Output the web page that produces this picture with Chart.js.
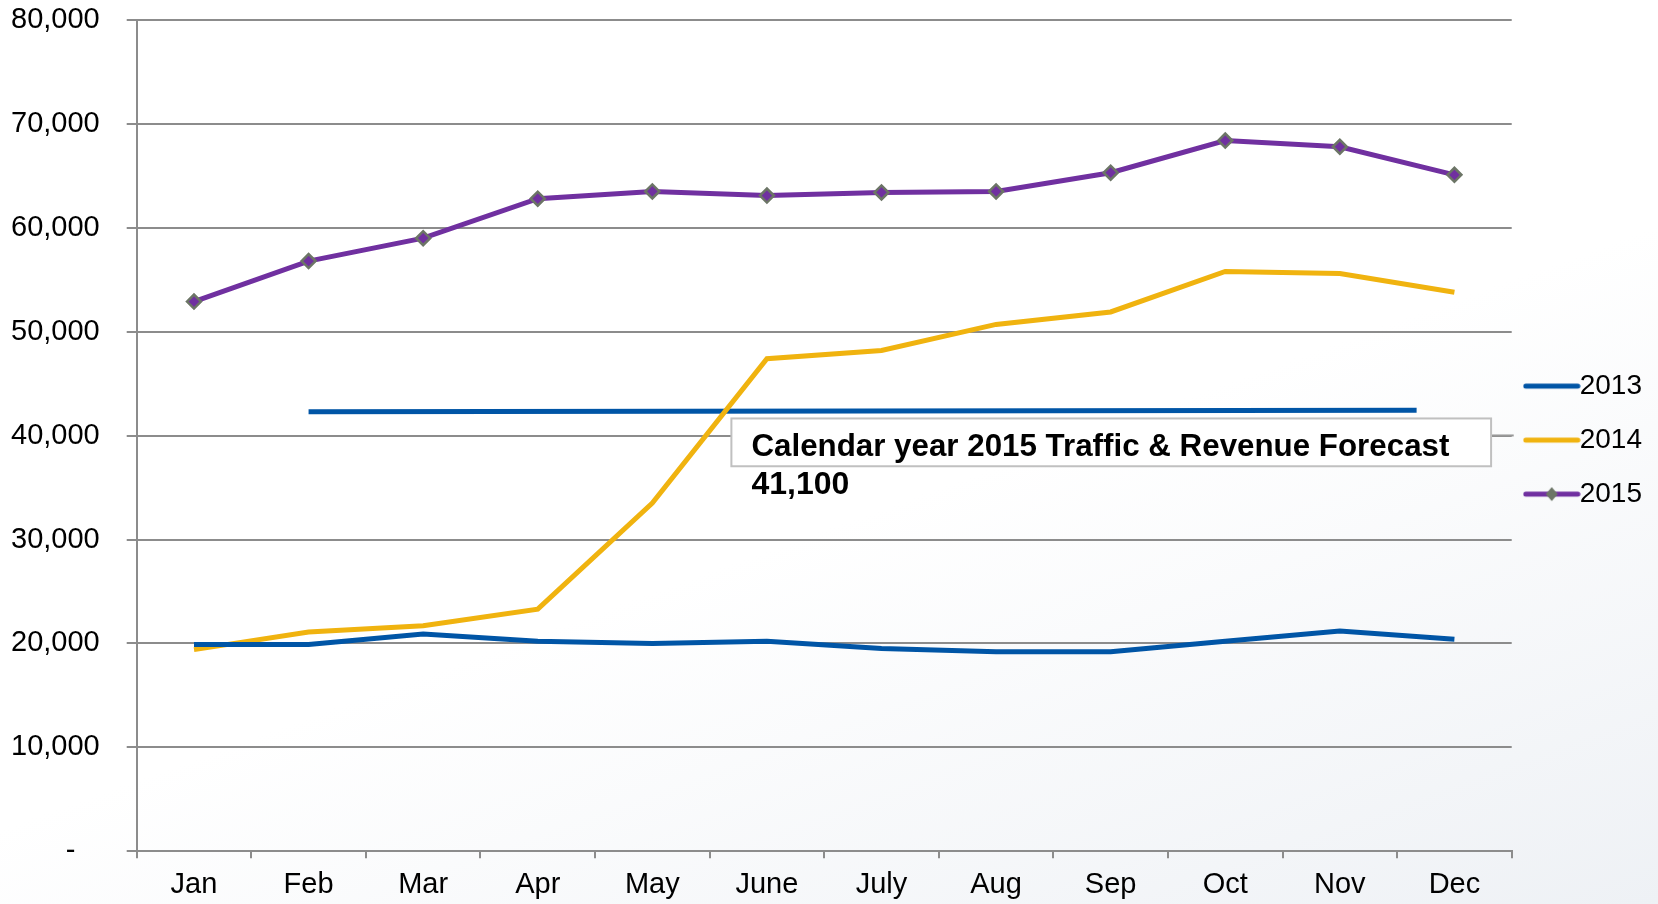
<!DOCTYPE html>
<html>
<head>
<meta charset="utf-8">
<script src="https://cdn.jsdelivr.net/npm/chart.js@4"></script>
<style>
  html, body { margin: 0; padding: 0; }
  body {
    width: 1658px; height: 904px; overflow: hidden;
    background: linear-gradient(160deg, #ffffff 0%, #ffffff 55%, #eef1f5 100%);
  }
  #chart { display: block; }
</style>
</head>
<body>
<canvas id="chart" width="1658" height="904"></canvas>
<script>
const months = ['Jan','Feb','Mar','Apr','May','June','July','Aug','Sep','Oct','Nov','Dec'];
const years = ['2013','2014','2015'];
const traffic2013 = [19900,19900,20900,20200,20000,20200,19500,19200,19200,20200,21200,20400];
const traffic2014 = [19400,21100,21700,23300,33500,47400,48200,50700,51900,55800,55600,53800];
const traffic2015 = [52900,56800,59000,62800,63500,63100,63400,63500,65300,68400,67800,65100];
// forecast bar, x in month index units
const forecastX = [1, 10.67];
const forecastY = [42300, 42450];
const forecastText = ['Calendar year 2015 Traffic & Revenue Forecast', '41,100'];

const colors = ['#0055a6', '#f0b30f', '#7030a0'];
const markerColor = '#6c7566';
const font = '"Liberation Sans", Arial, sans-serif';

/* legend icons: a line sample, 2015 also gets a diamond */
function legendIcon(color, marker){
  const c = document.createElement('canvas');
  c.width = 58; c.height = 18;
  const g = c.getContext('2d');
  g.strokeStyle = color;
  g.lineWidth = 5;
  g.lineCap = 'round';
  g.beginPath(); g.moveTo(3, 9); g.lineTo(55, 9); g.stroke();
  if(marker){
    g.fillStyle = markerColor;
    g.beginPath();
    g.moveTo(29, 2); g.lineTo(35, 9); g.lineTo(29, 16); g.lineTo(23, 9);
    g.closePath(); g.fill();
  }
  return c;
}
const icons = [legendIcon(colors[0]), legendIcon(colors[1]), legendIcon(colors[2], true)];

/* callout box with the forecast text */
const calloutPlugin = {
  id: 'callout',
  afterDatasetsDraw(chart, args, opts){
    const {ctx, scales, chartArea} = chart;
    const x2 = scales.x2, y = scales.y;
    const left = x2.getPixelForValue(opts.x0);
    const right = x2.getPixelForValue(opts.x1);
    const top = y.getPixelForValue(opts.y0);
    const bottom = y.getPixelForValue(opts.y1);
    ctx.save();
    ctx.fillStyle = '#ffffff';
    ctx.fillRect(left, top, right - left, bottom - top);
    ctx.strokeStyle = '#c0c0c0';
    ctx.lineWidth = 2;
    ctx.strokeRect(left, top, right - left, bottom - top);
    // little connector toward the legend
    ctx.strokeStyle = '#999999';
    ctx.beginPath();
    ctx.moveTo(right + 1, top + 17);
    ctx.lineTo(chartArea.right + 2, top + 17);
    ctx.stroke();
    ctx.fillStyle = '#000';
    ctx.font = 'bold 32px ' + font;
    ctx.textBaseline = 'middle';
    ctx.textAlign = 'left';
    ctx.fillText(forecastText[0], left + 20, top + 29, opts.textWidth);
    ctx.fillText(forecastText[1], left + 20, top + 67);
    ctx.restore();
  }
};

const data = {
  labels: months,
  datasets: [
    {
      label: years[0], data: traffic2013,
      borderColor: colors[0], backgroundColor: colors[0],
      borderWidth: 5, pointRadius: 0, tension: 0
    },
    {
      label: years[1], data: traffic2014,
      borderColor: colors[1], backgroundColor: colors[1],
      borderWidth: 5, pointRadius: 0, tension: 0
    },
    {
      label: years[2], data: traffic2015,
      borderColor: colors[2], backgroundColor: colors[2],
      borderWidth: 5, tension: 0,
      pointStyle: 'rectRot', pointRadius: 7,
      pointBackgroundColor: colors[2], pointBorderColor: markerColor, pointBorderWidth: 2.5
    },
    {
      label: 'forecast', xAxisID: 'x2',
      data: forecastX.map((x, i) => ({x, y: forecastY[i]})),
      borderColor: colors[0], borderWidth: 5, pointRadius: 0, borderCapStyle: 'butt'
    }
  ]
};

new Chart(document.getElementById('chart'), {
  type: 'line',
  data,
  plugins: [calloutPlugin],
  options: {
    responsive: false,
    animation: false,
    layout: { padding: { left: 11, top: 20, right: 6, bottom: 2 } },
    plugins: {
      tooltip: { enabled: false },
      legend: {
        position: 'right',
        fullSize: false,
        title: { display: true, text: ' ', color: '#000', font: { size: 7.5 } },
        labels: {
          font: { family: font, size: 28 },
          color: '#000',
          usePointStyle: true,
          pointStyleWidth: 28,
          padding: 26,
          generateLabels(chart){
            return years.map((y, i) => ({
              text: y, datasetIndex: i, pointStyle: icons[i], fontColor: '#000',
              fillStyle: colors[i], strokeStyle: colors[i], lineWidth: 0, hidden: false
            }));
          }
        }
      },
      callout: { x0: 4.69, x1: 11.32, y0: 41650, y1: 37050, textWidth: 698 }
    },
    scales: {
      x: {
        offset: true,
        afterFit(scale){ scale.height -= 9; },
        grid: { drawOnChartArea: false, drawTicks: true, tickLength: 7, offset: true, color: '#8c8c8c', lineWidth: 2 },
        border: { display: true, color: '#8c8c8c', width: 2 },
        ticks: { font: { family: font, size: 29 }, color: '#000', padding: 9, maxRotation: 0, autoSkip: false }
      },
      x2: {
        type: 'linear', display: false, min: -0.5, max: 11.5
      },
      y: {
        min: 0, max: 80000,
        afterFit(scale){ scale.paddingTop = 0; scale.paddingBottom = 0; scale.width -= 27; },
        ticks: {
          stepSize: 10000,
          font: { family: font, size: 29 }, color: '#000', padding: 27,
          callback: v => v === 0 ? '-   ' : v.toLocaleString('en-US')
        },
        grid: { color: '#8c8c8c', lineWidth: 2, tickLength: 10 },
        border: { display: true, color: '#8c8c8c', width: 2 }
      }
    }
  }
});
</script>
</body>
</html>
